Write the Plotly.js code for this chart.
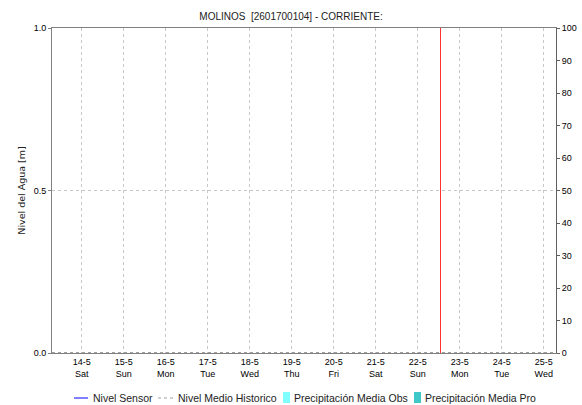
<!DOCTYPE html>
<html>
<head>
<meta charset="utf-8">
<script src="https://cdn.plot.ly/plotly-3.0.1.min.js"></script>
<style>
html,body{margin:0;padding:0;background:#fff;}
#chart{width:582px;height:405px;}
</style>
</head>
<body>
<div id="chart"></div>
<script>
// Data
const dayTicks = ['2022-05-14','2022-05-15','2022-05-16','2022-05-17','2022-05-18','2022-05-19','2022-05-20','2022-05-21','2022-05-22','2022-05-23','2022-05-24','2022-05-25'];
const dayLabels = ['14-5<br>Sat','15-5<br>Sun','16-5<br>Mon','17-5<br>Tue','18-5<br>Wed','19-5<br>Thu','20-5<br>Fri','21-5<br>Sat','22-5<br>Sun','23-5<br>Mon','24-5<br>Tue','25-5<br>Wed'];
const xRange = ['2022-05-13 07:00','2022-05-25 07:00'];
const sensorTimes = ['2022-05-13 07:00'];
const sensorLevel = [null];
const histTimes = ['2022-05-13 07:00','2022-05-25 07:00'];
const histLevel = [0, 0];
const precipObs = [0,0,0,0,0,0,0,0,0,0,0,0];
const precipPro = [0,0,0,0,0,0,0,0,0,0,0,0];
const nowTime = '2022-05-22 13:00';
const nowLine = [0, 1];
const seriesNames = ['Nivel Sensor','Nivel Medio Historico','Precipitación Media Obs','Precipitación Media Pro'];
const seriesColors = ['#0000ff','#a0a0a0','#80ffff','#40c8c8'];

const FONT = 'Liberation Sans, Arial, sans-serif';

// plot area in pixels (for legend placement)
const PL = 52, PR = 556, PT = 28, PB = 353;
const fx = px => (px - PL) / (PR - PL);
const fy = py => (PB - py) / (PB - PT);

const traces = [
  {x: sensorTimes, y: sensorLevel, type:'scatter', mode:'lines', name:seriesNames[0],
   line:{color:seriesColors[0], width:1}},
  {x: histTimes, y: histLevel, type:'scatter', mode:'lines', name:seriesNames[1],
   line:{color:'#404040', width:1, dash:'dot'}},
  {x: dayTicks, y: precipObs, type:'bar', name:seriesNames[2], yaxis:'y2',
   marker:{color:seriesColors[2]}},
  {x: dayTicks, y: precipPro, type:'bar', name:seriesNames[3], yaxis:'y2',
   marker:{color:seriesColors[3]}},
  {x: [nowTime, nowTime], y: nowLine, type:'scatter', mode:'lines', showlegend:false,
   line:{color:'#ff3333', width:1}, hoverinfo:'skip'}
];

// Manual legend (compact, like the reference)
const legY = 398;
const legItems = [
  {kind:'line', x0:74, x1:88, tx:91, dash:'solid', color:seriesColors[0]},
  {kind:'line', x0:158, x1:173, tx:176, dash:'dot', color:seriesColors[1]},
  {kind:'box', x0:283, x1:290, tx:292, color:seriesColors[2]},
  {kind:'box', x0:414, x1:421, tx:423, color:seriesColors[3]}
];
const shapes = [];
const annotations = [];
legItems.forEach((it, i) => {
  if (it.kind === 'line') {
    shapes.push({type:'line', xref:'paper', yref:'paper', x0:fx(it.x0), x1:fx(it.x1), y0:fy(legY), y1:fy(legY),
      line:{color:it.color, width:1, dash:it.dash}});
  } else {
    shapes.push({type:'rect', xref:'paper', yref:'paper', x0:fx(it.x0), x1:fx(it.x1), y0:fy(legY+5), y1:fy(legY-6),
      line:{width:0}, fillcolor:it.color});
  }
  annotations.push({text:seriesNames[i], xref:'paper', yref:'paper', x:fx(it.tx), y:fy(legY),
    xanchor:'left', yanchor:'middle', showarrow:false, font:{family:FONT, size:10.5, color:'#222'}});
});

const layout = {
  width:582, height:405,
  margin:{l:PL, r:582-PR, t:PT, b:405-PB},
  paper_bgcolor:'#fff', plot_bgcolor:'#fff',
  font:{family:FONT, size:9, color:'#000'},
  title:{text:'MOLINOS  [2601700104] - CORRIENTE:', font:{family:FONT, size:10, color:'#222'},
         x:0.5, xanchor:'center', yref:'container', y:1-16/405, yanchor:'middle'},
  showlegend:false,
  bargap:0.3,
  shapes: shapes,
  annotations: annotations,
  xaxis:{type:'date', range:xRange, tickvals:dayTicks, ticktext:dayLabels,
         tickangle:0,
         showgrid:true, gridcolor:'#c8c8c8', griddash:'dot', gridwidth:1,
         showline:true, linecolor:'#808080', linewidth:1, mirror:true,
         ticks:'', zeroline:false, tickfont:{family:FONT, size:9, color:'#000'}},
  yaxis:{range:[0,1], tickvals:[0,0.5,1], ticktext:['0.0','0.5','1.0'],
         showgrid:true, gridcolor:'#c8c8c8', griddash:'dot',
         showline:true, linecolor:'#808080', linewidth:1,
         ticks:'outside', ticklen:3, tickcolor:'#808080', zeroline:false,
         title:{text:'Nivel del Agua [m]', font:{family:'DejaVu Sans, sans-serif', size:9.5, color:'#222'}, standoff:6},
         tickfont:{family:FONT, size:9, color:'#000'}},
  yaxis2:{range:[0,100], dtick:10, overlaying:'y', side:'right',
          showgrid:false, showline:true, linecolor:'#606060', linewidth:1,
          ticks:'outside', ticklen:3, tickcolor:'#606060', zeroline:false,
          tickfont:{family:FONT, size:9, color:'#000'}}
};

Plotly.newPlot('chart', traces, layout, {displayModeBar:false, staticPlot:true});
</script>
</body>
</html>
